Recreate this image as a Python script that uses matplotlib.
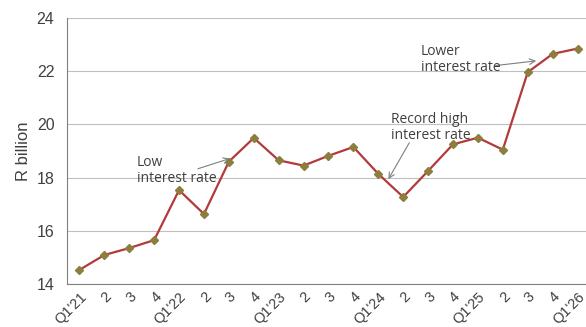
import matplotlib
matplotlib.use("Agg")
import matplotlib.pyplot as plt

# quarterly values, R billion
quarters = ["Q1'21", "2", "3", "4",
            "Q1'22", "2", "3", "4",
            "Q1'23", "2", "3", "4",
            "Q1'24", "2", "3", "4",
            "Q1'25", "2", "3", "4",
            "Q1'26"]
values = [14.53, 15.09, 15.35, 15.65,
          17.53, 16.63, 18.60, 19.49,
          18.65, 18.45, 18.82, 19.15,
          18.14, 17.27, 18.25, 19.25,
          19.50, 19.05, 21.96, 22.65,
          22.85]

text_col = "#404040"
line_col = "#B23A3A"
marker_col = "#8C7E3C"

plt.rcParams['font.family'] = ['Liberation Sans', 'DejaVu Sans']

fig = plt.figure(figsize=(5.86, 3.27), dpi=100)
ax = fig.add_axes([0.1143, 0.1315, 0.8925, 0.8135])

x = list(range(len(quarters)))
ax.plot(x, values, color=line_col, lw=1.6, marker="D", ms=4.5,
        mfc=marker_col, mec=marker_col, zorder=3)

ax.set_xlim(-0.5, len(quarters) - 0.5)
ax.set_ylim(14, 24)
ax.set_yticks([14, 16, 18, 20, 22, 24])
ax.set_xticks(x)
ax.set_xticklabels(quarters, rotation=45, ha="right", va="top",
                   rotation_mode="anchor", fontsize=10.5, color=text_col)
ax.tick_params(axis="y", labelsize=11.5, colors=text_col, length=0, pad=9)
ax.tick_params(axis="x", length=0, pad=4)
ax.set_ylabel("R billion", fontsize=12, color=text_col, labelpad=4)

ax.grid(axis="y", color="#BFBFBF", lw=0.8)
ax.set_axisbelow(True)
for side in ["top", "right"]:
    ax.spines[side].set_visible(False)
ax.spines["left"].set_color("#808080")
ax.spines["bottom"].set_color("#808080")

note_font = dict(fontsize=10, color=text_col, family=['Open Sans', 'DejaVu Sans'],
                 ha="left", va="center", linespacing=1.1)
arrow = dict(arrowstyle="->", color="#7F7F7F", lw=0.8)

ax.annotate("", xy=(6.15, 18.75), xytext=(4.65, 18.3), arrowprops=arrow)
ax.text(2.3, 18.25, "Low\ninterest rate", **note_font)

ax.annotate("", xy=(12.35, 17.85), xytext=(13.3, 19.4), arrowprops=arrow)
ax.text(12.5, 19.9, "Record high\ninterest rate", **note_font)

ax.annotate("", xy=(18.45, 22.4), xytext=(16.6, 22.2), arrowprops=arrow)
ax.text(13.7, 22.45, "Lower\ninterest rate", **note_font)

fig.savefig("out.png", dpi=100)
